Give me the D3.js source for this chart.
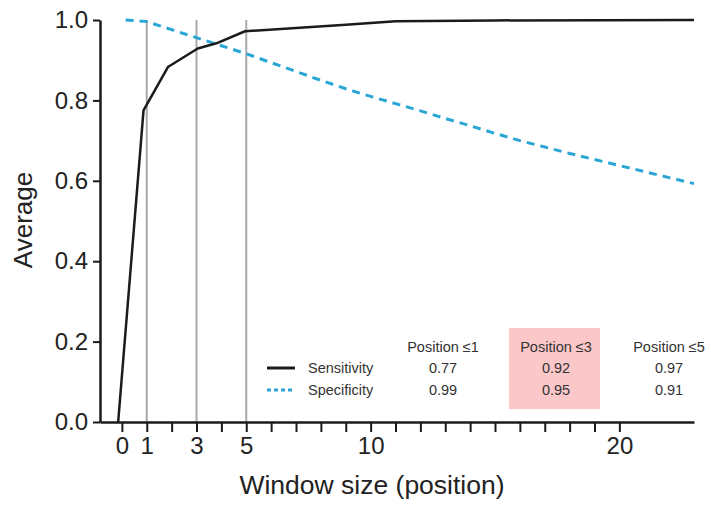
<!DOCTYPE html>
<html>
<head>
<meta charset="utf-8">
<script src="https://cdn.jsdelivr.net/npm/d3@7"></script>
<style>
  html, body { margin: 0; padding: 0; background: #fff; }
  svg { display: block; font-family: "Liberation Sans", Arial, sans-serif; }
</style>
</head>
<body>
<svg id="chart" width="711" height="516"></svg>
<script>
// ---- data ----
const sensX = [-0.15, 0.87, 1.85, 3.05, 3.8, 4.95, 7, 9, 11, 15, 23];
const sensY = [0, 0.775, 0.883, 0.929, 0.942, 0.972, 0.98, 0.988, 0.997, 0.999, 1.0];
const specX = [0.15, 1, 2, 3, 4, 5, 6, 7, 8, 9, 10, 11, 12, 13, 14, 15, 16, 17, 18, 19, 20, 21, 22, 23];
const specY = [1.0, 0.996, 0.976, 0.956, 0.936, 0.916, 0.894, 0.872, 0.85, 0.829, 0.81, 0.792, 0.774, 0.755, 0.737, 0.718, 0.7, 0.684, 0.668, 0.653, 0.638, 0.623, 0.608, 0.593];
const markerX = [1, 3, 5];
const xTickValues = d3.range(0, 21);
const xTickLabels = [0, 1, 3, 5, 10, 20];
const yTickValues = [0, 0.2, 0.4, 0.6, 0.8, 1.0];
const tableHeaders = ["Position \u22641", "Position \u22643", "Position \u22645"];
const tableSens = ["0.77", "0.92", "0.97"];
const tableSpec = ["0.99", "0.95", "0.91"];
const highlightCol = 1;
const seriesNames = ["Sensitivity", "Specificity"];

// ---- layout ----
const svg = d3.select("#chart");
const x = d3.scaleLinear().domain([-0.88, 23]).range([100, 694]);
const y = d3.scaleLinear().domain([0, 1]).range([422, 20]);
const sensColor = "#1b1b1b", specColor = "#29a6d6", gridColor = "#a9a9a9";

// vertical marker lines
svg.append("g").selectAll("line").data(markerX).join("line")
  .attr("x1", d => x(d)).attr("x2", d => x(d))
  .attr("y1", y(1)).attr("y2", y(0))
  .attr("stroke", gridColor).attr("stroke-width", 2);

// table highlight
const colX = [443, 556, 669];
const rowY = [347, 368, 390];
svg.append("rect")
  .attr("x", colX[highlightCol] - 47).attr("y", 328)
  .attr("width", 91).attr("height", 81)
  .attr("fill", "#fbc7c8");

// lines
const line = d3.line().x(d => x(d[0])).y(d => y(d[1]));
svg.append("path")
  .datum(specX.map((v, i) => [v, specY[i]]))
  .attr("d", line).attr("fill", "none")
  .attr("stroke", specColor).attr("stroke-width", 3)
  .attr("stroke-dasharray", "8,6");
svg.append("path")
  .datum(sensX.map((v, i) => [v, sensY[i]]))
  .attr("d", line).attr("fill", "none")
  .attr("stroke", sensColor).attr("stroke-width", 2.5)
  .attr("stroke-linejoin", "round");

// axes
const yAxis = svg.append("g").attr("transform", `translate(${x.range()[0]},0)`)
  .call(d3.axisLeft(y).tickValues(yTickValues).tickFormat(d3.format(".1f"))
    .tickSize(7).tickSizeOuter(0).tickPadding(5));
const xAxis = svg.append("g").attr("transform", `translate(0,${y(0)})`)
  .call(d3.axisBottom(x).tickValues(xTickValues)
    .tickFormat(d => xTickLabels.includes(d) ? d : "")
    .tickSize(10).tickSizeOuter(0).tickPadding(5));
[yAxis, xAxis].forEach(a => {
  a.select(".domain").attr("stroke", "#1b1b1b").attr("stroke-width", 2.5);
  a.selectAll(".tick line").attr("stroke", "#1b1b1b").attr("stroke-width", 2);
  a.selectAll(".tick text").attr("fill", "#222").style("font-size", "24px")
    .style("font-family", "'Liberation Sans', Arial, sans-serif");
});

// axis titles
svg.append("text").attr("x", 372).attr("y", 494).attr("text-anchor", "middle")
  .attr("fill", "#222").style("font-size", "26.5px").text("Window size (position)");
svg.append("text").attr("transform", "translate(32,220) rotate(-90)")
  .attr("text-anchor", "middle").attr("fill", "#222").style("font-size", "26px").text("Average");

// legend
const leg = svg.append("g");
leg.append("line").attr("x1", 267).attr("x2", 295).attr("y1", rowY[1]).attr("y2", rowY[1])
  .attr("stroke", sensColor).attr("stroke-width", 3);
leg.append("line").attr("x1", 267).attr("x2", 295).attr("y1", rowY[2]).attr("y2", rowY[2])
  .attr("stroke", specColor).attr("stroke-width", 3).attr("stroke-dasharray", "4,3");
leg.selectAll("text.name").data(seriesNames).join("text").attr("class", "name")
  .attr("x", 308).attr("y", (d, i) => rowY[i + 1]).attr("dy", "0.35em")
  .attr("fill", "#333").style("font-size", "14.5px").text(d => d);

// table
const tbl = svg.append("g").attr("text-anchor", "middle").attr("fill", "#333").style("font-size", "14.5px");
[tableHeaders, tableSens, tableSpec].forEach((row, r) => {
  tbl.selectAll(`text.r${r}`).data(row).join("text").attr("class", `r${r}`)
    .attr("x", (d, i) => colX[i]).attr("y", rowY[r]).attr("dy", "0.35em").text(d => d);
});
</script>
</body>
</html>
